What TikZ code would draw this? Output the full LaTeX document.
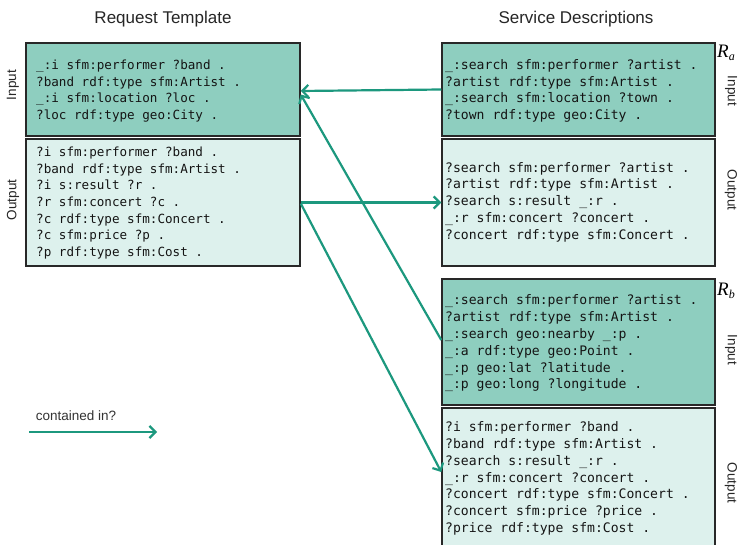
\documentclass[tikz,border=0pt]{standalone}
\usepackage{fontspec}
\setmainfont{Liberation Sans}
\newfontfamily\codefont{DejaVu Sans Mono}
\newfontfamily\rfont{Liberation Serif}
\usetikzlibrary{arrows.meta,calc}
\definecolor{infill}{RGB}{142,206,191}
\definecolor{outfill}{RGB}{221,241,237}
\definecolor{conncol}{RGB}{28,152,126}
\definecolor{boxline}{RGB}{40,40,40}
\definecolor{codecol}{RGB}{20,20,20}
\tikzset{
  inbox/.style={draw=boxline, line width=1.5pt, fill=infill, rectangle, inner sep=0pt},
  outbox/.style={draw=boxline, line width=1.5pt, fill=outfill, rectangle, inner sep=0pt},
  lcode/.style={anchor=west, align=left, inner sep=0pt, text=codecol, font=\codefont\fontsize{12.6}{16.7}\selectfont},
  rcode/.style={anchor=west, align=left, inner sep=0pt, text=codecol, font=\codefont\fontsize{13.1}{16.8}\selectfont},
  header/.style={inner sep=0pt, text=black!85, font=\fontsize{17}{20}\selectfont},
  sidelbl/.style={inner sep=0pt, text=black!85, font=\fontsize{13.5}{16}\selectfont},
  rlbl/.style={inner sep=0pt, font=\rfont\itshape\fontsize{19}{22}\selectfont},
  conn/.style={draw=conncol, line width=2.2pt, -{Straight Barb[length=6pt,width=12pt]}},
}
\begin{document}
\begin{tikzpicture}[x=1pt,y=-1pt]
\clip (0,0) rectangle (739,545);
\fill[white] (0,0) rectangle (739,545);
% headers
\node[header] (h1) at (163,19) {Request Template};
\node[header] (h2) at (576,19) {Service Descriptions};
% boxes
\node[inbox, minimum width=274pt, minimum height=93pt] (lti) at (163,89.5) {};
\node[outbox, minimum width=274pt, minimum height=127pt] (lto) at (163,202.5) {};
\node[inbox, minimum width=273pt, minimum height=93pt] (rai) at (578.5,89.5) {};
\node[outbox, minimum width=273pt, minimum height=127pt] (rao) at (578.5,202.5) {};
\node[inbox, minimum width=273pt, minimum height=126pt] (rbi) at (578.5,342) {};
\node[outbox, minimum width=273pt, minimum height=143pt] (rbo) at (578.5,479.5) {};
% code texts
\node[lcode] (tlti) at (36,91) {\_:i sfm:performer ?band .\\?band rdf:type sfm:Artist .\\\_:i sfm:location ?loc .\\?loc rdf:type geo:City .};
\node[lcode] (tlto) at (36,203) {?i sfm:performer ?band .\\?band rdf:type sfm:Artist .\\?i s:result ?r .\\?r sfm:concert ?c .\\?c rdf:type sfm:Concert .\\?c sfm:price ?p .\\?p rdf:type sfm:Cost .};
\node[rcode] (trai) at (445,91) {\_:search sfm:performer ?artist .\\?artist rdf:type sfm:Artist .\\\_:search sfm:location ?town .\\?town rdf:type geo:City .};
\node[rcode] (trao) at (445,202) {?search sfm:performer ?artist .\\?artist rdf:type sfm:Artist .\\?search s:result \_:r .\\\_:r sfm:concert ?concert .\\?concert rdf:type sfm:Concert .};
\node[rcode] (trbi) at (445,343.5) {\_:search sfm:performer ?artist .\\?artist rdf:type sfm:Artist .\\\_:search geo:nearby \_:p .\\\_:a rdf:type geo:Point .\\\_:p geo:lat ?latitude .\\\_:p geo:long ?longitude .};
\node[rcode] (trbo) at (445,478.5) {?i sfm:performer ?band .\\?band rdf:type sfm:Artist .\\?search s:result \_:r .\\\_:r sfm:concert ?concert .\\?concert rdf:type sfm:Concert .\\?concert sfm:price ?price .\\?price rdf:type sfm:Cost .};
% side labels
\node[sidelbl, rotate=90] (li) at (13,85) {Input};
\node[sidelbl, rotate=90] (lo) at (13,200) {Output};
\node[sidelbl, rotate=-90] (rai-l) at (731,91) {Input};
\node[sidelbl, rotate=-90] (rao-l) at (731,190) {Output};
\node[sidelbl, rotate=-90] (rbi-l) at (731,350) {Input};
\node[sidelbl, rotate=-90] (rbo-l) at (731,483) {Output};
\node[rlbl] (ra) at (726,53) {R\raisebox{-0.35ex}{\fontsize{12}{14}\selectfont a}};
\node[rlbl] (rb) at (726,291) {R\raisebox{-0.35ex}{\fontsize{12}{14}\selectfont b}};
% connectors
\draw[conn] (rai.west) -- ($(lti.east)+(0,1.5)$);
\draw[conn] ($(rbi.west)+(0,-2)$) -- ($(lti.east)+(0,5)$);
\draw[conn] (lto.east) -- (rao.west);
\draw[conn] ($(lto.east)+(0,1)$) -- ($(rbo.west)+(0,-7.5)$);
% legend
\coordinate (lga) at (29,432);
\coordinate (lgb) at (157,432);
\draw[conn] (lga) -- (lgb);
\node[inner sep=0pt, text=black!80, font=\fontsize{13.5}{16}\selectfont] (lgt) at (76,416) {contained in?};
\end{tikzpicture}
\end{document}
